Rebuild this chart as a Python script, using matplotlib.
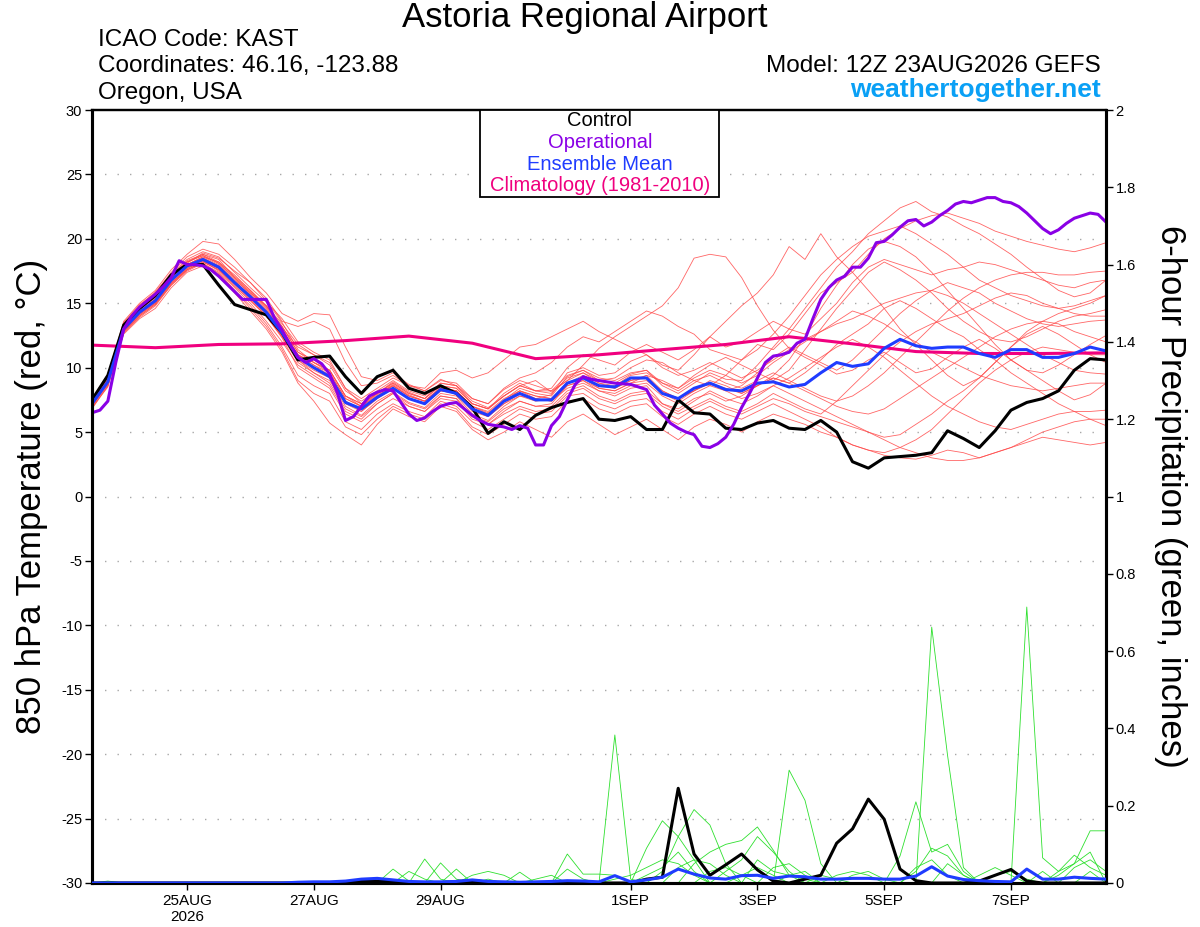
import numpy as np
import pandas as pd
import matplotlib
matplotlib.use('Agg')
import matplotlib.pyplot as plt
import matplotlib.dates as mdates
from matplotlib.patches import Rectangle

plt.rcParams['font.family'] = ['Liberation Sans', 'DejaVu Sans']

# ---- data ----
# 6-hourly steps from 12Z 23AUG2026, 65 points
times = pd.date_range('2026-08-23 12:00', periods=65, freq='6h')
times_op = pd.date_range('2026-08-23 12:00', periods=129, freq='3h')
times_clim = pd.date_range('2026-08-23 12:00', periods=17, freq='D')

ctrl_t = [7.5, 9.4, 13.3, 14.6, 15.6, 17.2, 18.0, 18.0, 16.4, 14.9, 14.5, 14.1, 12.7,
          10.6, 10.8, 10.9, 9.3, 8.0, 9.3, 9.8, 8.4, 8.0, 8.6, 8.0, 6.9, 4.9,
          5.8, 5.2, 6.3, 6.9, 7.3, 7.6, 6.0, 5.9, 6.2, 5.2, 5.2, 7.5, 6.5,
          6.4, 5.3, 5.2, 5.7, 5.9, 5.3, 5.2, 5.9, 5.0, 2.7, 2.2, 3.0, 3.1,
          3.2, 3.4, 5.1, 4.5, 3.8, 5.1, 6.7, 7.3, 7.6, 8.2, 9.8, 10.7, 10.6]

mean_t = [7.2, 8.9, 13.0, 14.3, 15.2, 16.8, 17.9, 18.4, 17.8, 16.6, 15.5, 14.3, 12.7,
          10.8, 10.0, 9.3, 7.3, 6.8, 7.7, 8.4, 7.6, 7.2, 8.3, 8.0, 6.8, 6.3,
          7.4, 8.0, 7.5, 7.5, 8.8, 9.2, 8.6, 8.5, 9.2, 9.2, 8.0, 7.6, 8.4,
          8.8, 8.3, 8.2, 8.8, 8.9, 8.5, 8.7, 9.6, 10.4, 10.1, 10.3, 11.5, 12.2,
          11.7, 11.5, 11.6, 11.6, 11.1, 10.8, 11.4, 11.4, 10.8, 10.8, 11.1, 11.6, 11.3]

# operational run is 3-hourly
oper_t = [6.5, 6.7, 7.4, 10.4, 13.0, 14.0, 14.7, 15.2, 15.7, 16.3, 17.0, 18.3, 18.0,
          18.0, 17.9, 17.6, 17.1, 16.5, 15.9, 15.3, 15.3, 15.3, 15.3, 13.9, 12.9, 11.8,
          10.8, 10.4, 10.7, 10.3, 9.5, 8.0, 5.9, 6.2, 7.0, 7.8, 8.1, 8.3, 8.2,
          7.3, 6.4, 5.9, 6.1, 6.6, 7.0, 7.2, 7.3, 6.8, 6.3, 5.9, 5.6, 5.5, 5.4,
          5.2, 5.5, 5.3, 4.0, 4.0, 5.5, 6.2, 7.5, 8.7, 9.3, 9.1, 9.0, 8.9,
          8.8, 8.75, 8.7, 8.5, 8.3, 7.1, 6.4, 5.7, 5.3, 5.0, 4.8, 3.9, 3.8,
          4.1, 4.6, 5.6, 6.9, 8.0, 9.2, 10.4, 10.9, 11.0, 11.2, 11.9, 12.2, 13.8,
          15.3, 16.2, 16.8, 17.1, 17.8, 17.8, 18.5, 19.7, 19.8, 20.3, 20.9, 21.4, 21.5,
          21.0, 21.3, 21.8, 22.2, 22.7, 22.9, 22.8, 23.0, 23.2, 23.2, 22.9, 22.8, 22.5,
          22.0, 21.4, 20.8, 20.4, 20.7, 21.2, 21.6, 21.8, 22.0, 21.9, 21.3]

clim_t = [11.75, 11.55, 11.8, 11.85, 12.1, 12.45, 11.9, 10.7, 11.0, 11.4, 11.8, 12.4,
          11.85, 11.25, 11.1, 11.1, 11.15]

members_t = [
    [7.0, 9.2, 13.4, 14.8, 15.9, 17.3, 18.4, 19.0, 18.6, 17.4, 16.2, 15.1, 13.8,
     12.0, 11.2, 10.6, 8.4, 7.2, 8.0, 8.9, 8.1, 7.6, 8.8, 8.6, 7.4, 6.9,
     7.8, 8.6, 9.0, 8.1, 9.0, 10.2, 11.5, 12.4, 13.2, 14.0, 14.8, 16.2, 18.5,
     18.8, 18.6, 17.0, 14.8, 12.9, 11.5, 10.8, 10.2, 9.5, 9.8, 10.6, 11.2, 10.4,
     9.6, 9.9, 10.8, 11.6, 12.2, 11.5, 10.6, 9.8, 9.0, 8.2, 7.5, 7.9, 8.8],
    [7.4, 9.0, 13.0, 14.6, 15.5, 17.0, 18.1, 18.9, 18.5, 17.5, 16.6, 15.2, 13.5,
     11.4, 10.4, 9.8, 7.8, 7.0, 7.9, 8.7, 7.9, 7.4, 8.5, 8.2, 7.0, 6.5,
     7.5, 8.4, 8.0, 7.8, 9.3, 9.8, 9.0, 8.8, 9.5, 9.8, 8.6, 8.0, 8.8,
     9.6, 9.1, 9.0, 10.2, 11.6, 13.0, 14.6, 16.2, 17.8, 19.0, 20.4, 21.4, 22.4,
     22.9, 22.1, 21.7, 21.0, 20.4, 19.6, 18.8, 17.8, 16.9, 16.0, 15.5, 15.8, 16.8],
    [7.2, 8.8, 12.8, 14.2, 15.0, 16.6, 17.6, 18.2, 17.6, 16.3, 15.2, 14.0, 12.4,
     10.6, 9.6, 9.0, 7.0, 6.3, 7.4, 8.1, 7.3, 6.9, 8.0, 7.8, 6.4, 5.9,
     7.0, 7.8, 7.6, 7.9, 9.6, 10.0, 9.4, 9.6, 10.5, 11.0, 10.2, 9.8, 11.0,
     12.4, 13.6, 14.8, 15.8, 17.2, 19.4, 18.4, 20.4, 18.6, 17.4, 16.0, 14.6, 13.0,
     11.8, 10.6, 9.4, 8.6, 9.2, 10.4, 11.6, 12.8, 13.6, 14.2, 14.6, 15.0, 15.6],
    [7.6, 9.4, 13.6, 15.0, 16.0, 17.6, 18.8, 19.8, 19.6, 18.4, 17.0, 15.8, 14.2,
     13.6, 14.2, 14.1, 11.6, 9.3, 9.0, 9.6, 8.7, 8.2, 9.1, 8.6, 7.6, 7.2,
     8.3, 9.0, 8.6, 8.2, 9.0, 9.6, 9.0, 9.2, 10.0, 10.6, 10.4, 9.6, 9.0,
     8.6, 9.4, 10.6, 11.8, 11.4, 12.6, 14.2, 15.8, 16.6, 17.4, 18.8, 20.0, 20.8,
     21.4, 21.8, 22.0, 21.6, 21.2, 20.6, 20.2, 19.8, 19.5, 19.2, 19.0, 19.3, 19.7],
    [6.8, 8.6, 12.6, 13.8, 14.6, 16.2, 17.4, 17.9, 17.2, 15.8, 14.4, 13.0, 11.2,
     8.8, 7.4, 5.7, 4.8, 4.0, 5.6, 6.8, 6.2, 5.8, 7.0, 6.6, 5.2, 4.4,
     5.0, 5.8, 5.2, 4.6, 5.8, 6.4, 5.6, 4.8, 5.4, 6.0, 5.2, 4.4, 5.4,
     6.0, 5.6, 5.0, 5.8, 6.4, 6.0, 5.6, 5.0, 4.6, 4.0, 3.6, 3.2, 3.0,
     2.9, 3.2, 3.6, 3.4, 3.0, 3.4, 3.8, 4.2, 4.6, 4.4, 4.2, 4.0, 4.2],
    [7.3, 9.1, 13.2, 14.5, 15.4, 17.0, 18.0, 18.6, 18.0, 16.8, 15.8, 14.6, 13.0,
     11.0, 10.2, 9.6, 7.6, 7.0, 8.0, 8.8, 8.0, 7.6, 8.6, 8.4, 7.2, 6.8,
     8.0, 8.8, 8.2, 8.4, 10.0, 11.0, 10.6, 10.2, 11.2, 11.8, 11.2, 10.6, 11.4,
     12.4, 11.6, 12.0, 12.8, 13.6, 13.0, 12.6, 13.8, 15.0, 16.6, 17.8, 18.4, 18.0,
     17.6, 17.2, 17.6, 17.8, 18.2, 18.0, 17.6, 17.2, 16.8, 16.4, 16.2, 16.6, 16.8],
    [7.1, 8.7, 12.9, 14.1, 15.0, 16.5, 17.7, 18.3, 17.5, 16.2, 15.0, 13.6, 12.0,
     10.2, 9.4, 8.6, 6.6, 6.0, 7.2, 8.0, 7.0, 6.6, 7.6, 7.4, 6.0, 5.6,
     6.6, 7.4, 7.0, 7.2, 8.6, 9.0, 8.2, 7.8, 8.4, 8.6, 7.2, 6.8, 7.6,
     8.0, 7.4, 7.8, 8.6, 9.2, 8.8, 9.6, 10.6, 11.8, 12.6, 13.4, 14.6, 15.2,
     14.6, 13.8, 13.0, 12.4, 11.4, 10.6, 9.6, 8.8, 8.0, 7.2, 6.6, 6.0, 5.5],
    [7.5, 9.3, 13.3, 14.7, 15.6, 17.2, 18.3, 18.8, 18.2, 17.2, 16.0, 14.8, 13.2,
     11.2, 10.6, 9.8, 7.8, 7.2, 8.0, 8.6, 7.8, 7.4, 8.4, 8.2, 7.0, 6.6,
     7.6, 8.2, 7.6, 7.4, 8.6, 9.0, 8.4, 8.2, 8.8, 9.4, 9.0, 8.4, 9.4,
     10.2, 10.8, 10.2, 9.6, 9.0, 9.8, 11.4, 13.0, 14.6, 16.0, 17.4, 18.2, 17.6,
     16.8, 15.8, 14.6, 13.6, 12.8, 12.2, 12.0, 12.4, 13.0, 13.6, 14.0, 14.2, 14.5],
    [6.9, 8.5, 12.7, 13.9, 14.8, 16.4, 17.5, 18.1, 17.4, 16.0, 14.8, 13.4, 11.6,
     9.4, 8.6, 8.0, 5.8, 5.2, 6.4, 7.2, 6.6, 6.2, 7.4, 7.0, 5.8, 5.2,
     6.0, 6.8, 6.4, 6.6, 7.8, 8.0, 7.2, 6.8, 7.4, 7.6, 6.6, 6.0, 6.8,
     7.4, 6.8, 6.4, 7.0, 7.6, 7.2, 6.6, 6.2, 5.8, 5.4, 5.0, 4.6, 4.8,
     5.6, 6.4, 7.4, 8.2, 9.2, 10.4, 11.6, 12.6, 13.2, 12.6, 11.8, 11.0, 10.4],
    [7.2, 9.0, 13.1, 14.4, 15.3, 16.9, 18.0, 18.5, 17.9, 16.7, 15.6, 14.4, 12.9,
     11.0, 10.2, 9.4, 7.4, 6.6, 7.6, 8.4, 7.6, 7.2, 8.2, 8.0, 6.6, 6.2,
     7.2, 7.8, 7.4, 7.6, 8.8, 9.4, 8.8, 8.6, 9.4, 9.6, 8.8, 8.4, 9.2,
     9.8, 9.4, 8.8, 9.4, 10.4, 11.2, 12.0, 12.8, 13.6, 14.4, 14.0, 13.4, 12.6,
     12.0, 11.2, 10.6, 10.0, 9.4, 9.0, 8.6, 8.4, 8.2, 8.4, 8.6, 8.8, 8.8],
    [7.0, 8.9, 13.0, 14.3, 15.3, 16.9, 18.2, 18.8, 18.4, 17.0, 15.8, 14.8, 13.4,
     11.8, 11.0, 10.2, 8.2, 7.4, 8.2, 9.0, 8.2, 7.8, 8.8, 8.6, 7.2, 6.8,
     7.8, 8.6, 8.2, 8.0, 9.2, 9.6, 8.8, 8.4, 9.0, 9.4, 8.2, 7.6, 8.2,
     9.0, 8.6, 8.0, 8.6, 9.4, 10.6, 12.4, 14.6, 16.4, 18.0, 19.2, 19.8, 19.4,
     18.6, 17.4, 16.0, 14.6, 13.2, 11.8, 10.6, 9.8, 9.6, 10.2, 11.0, 11.8, 12.5],
    [7.3, 8.8, 12.8, 14.0, 14.9, 16.4, 17.6, 18.2, 17.6, 16.4, 15.2, 14.0, 12.4,
     10.4, 9.6, 8.8, 6.8, 6.2, 7.2, 8.0, 7.2, 6.8, 7.8, 7.6, 6.2, 5.8,
     6.8, 7.4, 7.0, 7.0, 8.2, 8.6, 7.8, 7.4, 8.0, 8.2, 7.2, 6.6, 7.4,
     8.2, 7.6, 7.2, 7.8, 8.6, 9.2, 10.0, 10.8, 11.6, 12.2, 11.6, 10.8, 9.8,
     8.8, 7.8, 7.0, 6.4, 5.8, 5.4, 5.2, 5.6, 6.0, 6.4, 6.6, 6.6, 6.7],
    [7.6, 9.5, 13.5, 14.9, 15.8, 17.4, 18.6, 19.2, 18.8, 17.8, 16.6, 15.4, 13.6,
     13.2, 13.6, 13.0, 10.4, 8.6, 8.8, 9.4, 8.6, 8.2, 9.0, 8.8, 7.6, 7.2,
     8.4, 9.2, 9.6, 10.4, 11.6, 12.4, 12.0, 12.8, 13.6, 14.4, 14.0, 13.2, 12.6,
     11.4, 11.0, 10.6, 11.4, 12.6, 14.0, 15.6, 17.2, 18.4, 19.4, 20.2, 20.6, 21.0,
     20.4, 19.6, 18.8, 17.8, 16.8, 16.2, 15.6, 15.2, 14.8, 14.6, 14.8, 15.2, 15.6],
    [7.1, 8.8, 12.9, 14.2, 15.1, 16.7, 17.8, 18.3, 17.7, 16.5, 15.4, 14.1, 12.5,
     10.6, 9.8, 9.2, 7.2, 6.6, 7.6, 8.4, 7.6, 7.2, 8.2, 8.0, 6.8, 6.2,
     7.2, 8.0, 7.6, 7.4, 8.4, 8.8, 8.2, 8.0, 8.6, 8.8, 7.8, 7.2, 8.0,
     8.6, 8.2, 8.6, 9.6, 10.8, 11.6, 11.0, 10.4, 9.8, 10.6, 11.8, 13.0, 14.2,
     15.2, 16.0, 16.6, 16.2, 15.8, 15.0, 14.4, 13.8, 13.4, 13.2, 13.4, 13.6, 13.7],
    [6.9, 8.6, 12.7, 14.0, 14.9, 16.5, 17.6, 18.1, 17.3, 16.0, 14.6, 13.2, 11.4,
     9.0, 8.0, 7.4, 5.4, 4.8, 6.0, 7.0, 6.4, 6.0, 7.2, 6.8, 5.4, 4.8,
     5.6, 6.4, 6.0, 6.2, 7.4, 7.6, 6.8, 6.4, 7.0, 7.2, 6.2, 5.6, 6.4,
     7.0, 6.4, 6.0, 6.6, 7.2, 6.6, 6.0, 5.4, 4.6, 4.0, 3.6, 3.4, 3.8,
     4.4, 5.2, 6.4, 7.6, 8.8, 9.8, 10.6, 11.2, 11.6, 11.4, 11.2, 11.0, 11.0],
    [7.4, 9.1, 13.2, 14.6, 15.5, 17.1, 18.2, 18.7, 18.1, 17.0, 15.9, 14.7, 13.1,
     11.6, 11.0, 10.4, 8.4, 7.6, 8.4, 9.2, 8.6, 8.4, 9.6, 9.8, 9.2, 9.6,
     10.6, 11.6, 11.8, 12.4, 13.0, 13.6, 12.8, 12.2, 11.6, 11.0, 10.0, 9.4, 9.8,
     10.4, 9.8, 9.2, 9.8, 10.6, 11.4, 12.2, 12.8, 13.4, 13.8, 14.4, 15.0, 15.4,
     15.8, 16.0, 15.6, 15.0, 14.2, 13.4, 12.6, 11.8, 11.0, 10.4, 9.8, 9.6, 9.5],
    [7.2, 8.9, 13.0, 14.3, 15.2, 16.8, 17.9, 18.5, 17.9, 16.7, 15.6, 14.4, 12.8,
     10.8, 10.0, 9.4, 7.4, 6.8, 7.8, 8.6, 7.8, 7.4, 8.4, 8.2, 7.0, 6.4,
     7.4, 8.2, 7.8, 7.6, 8.8, 9.2, 8.4, 8.2, 8.8, 9.0, 8.0, 7.4, 8.2,
     8.8, 8.4, 8.0, 8.6, 9.2, 8.8, 8.2, 7.6, 7.0, 6.6, 6.4, 6.8, 7.6,
     8.4, 9.2, 10.0, 10.8, 11.6, 12.4, 13.0, 13.4, 13.6, 13.4, 12.8, 12.4, 12.0],
    [7.0, 8.7, 12.8, 14.1, 15.0, 16.6, 17.7, 18.3, 17.7, 16.5, 15.3, 14.0, 12.3,
     10.0, 9.2, 8.4, 6.4, 5.8, 6.8, 7.6, 7.0, 6.6, 7.8, 7.6, 6.2, 5.6,
     6.4, 7.0, 6.6, 6.8, 8.0, 8.4, 7.6, 7.2, 7.8, 8.0, 7.0, 6.4, 7.0,
     7.6, 7.0, 6.6, 7.2, 8.0, 7.4, 6.8, 6.4, 7.4, 8.6, 9.8, 11.0, 12.0,
     12.8, 13.4, 13.8, 14.2, 14.8, 15.4, 15.8, 15.6, 15.0, 14.6, 14.2, 14.0, 14.0],
    [7.5, 9.2, 13.3, 14.6, 15.5, 17.1, 18.2, 18.7, 18.1, 16.9, 15.7, 14.5, 12.9,
     11.0, 10.4, 9.6, 7.6, 7.0, 7.8, 8.6, 7.8, 7.4, 8.4, 8.2, 6.8, 6.4,
     7.4, 8.2, 7.8, 7.6, 8.8, 9.2, 8.6, 8.4, 9.0, 9.2, 8.2, 7.6, 8.2,
     8.8, 8.2, 7.6, 8.0, 8.6, 8.0, 7.4, 6.8, 6.2, 5.6, 5.0, 4.4, 3.8,
     3.4, 3.0, 2.8, 2.8, 3.0, 3.4, 3.8, 4.4, 5.0, 5.4, 5.8, 6.0, 6.0],
    [7.3, 9.0, 13.1, 14.4, 15.3, 16.9, 18.0, 18.6, 18.2, 17.1, 16.0, 14.8, 13.2,
     11.2, 10.4, 9.8, 7.8, 7.2, 8.0, 8.8, 8.0, 7.6, 8.6, 8.4, 7.2, 6.8,
     7.8, 8.6, 8.2, 8.2, 9.4, 9.8, 9.2, 9.0, 9.6, 9.8, 8.8, 8.2, 9.0,
     9.4, 8.8, 8.4, 9.0, 9.6, 9.0, 8.4, 7.8, 7.4, 7.8, 8.6, 9.6, 10.8,
     12.0, 13.2, 14.4, 15.4, 16.2, 16.8, 17.2, 17.4, 17.4, 17.2, 17.2, 17.4, 17.5],
]

# 6-hour precipitation (inches)
ctrl_p = [0, 0, 0, 0, 0, 0, 0, 0, 0, 0, 0, 0, 0,
          0, 0, 0, 0.003, 0.006, 0.005, 0.003, 0, 0, 0, 0.004, 0.006, 0.003,
          0, 0, 0, 0, 0.003, 0.002, 0, 0, 0, 0.01, 0.015, 0.245, 0.075,
          0.02, 0.047, 0.075, 0.034, 0.005, 0, 0.01, 0.02, 0.103, 0.14, 0.217, 0.165, 0.036,
          0.006, 0, 0, 0, 0.005, 0.02, 0.035, 0.005, 0, 0, 0, 0, 0]

mean_p = [0, 0, 0, 0, 0, 0, 0, 0, 0, 0, 0, 0, 0,
          0.002, 0.003, 0.003, 0.005, 0.01, 0.012, 0.008, 0.004, 0.003, 0.003, 0.004, 0.008, 0.004,
          0.003, 0.002, 0.003, 0.004, 0.006, 0.005, 0.003, 0.019, 0.003, 0.008, 0.015, 0.036, 0.023,
          0.013, 0.01, 0.019, 0.02, 0.012, 0.018, 0.016, 0.01, 0.01, 0.012, 0.012, 0.01, 0.01,
          0.018, 0.042, 0.018, 0.009, 0.006, 0.004, 0.003, 0.036, 0.01, 0.01, 0.015, 0.012, 0.01]

# members: nonzero 6-h amounts by step index, all other steps are 0
members_p = [
    {19: 0.036, 20: 0.005, 33: 0.383, 34: 0.01, 44: 0.02, 45: 0.03},
    {21: 0.062, 22: 0.01, 25: 0.01, 36: 0.03, 37: 0.12, 38: 0.19, 39: 0.15, 40: 0.05,
     53: 0.662, 54: 0.33, 55: 0.04},
    {22: 0.052, 23: 0.01, 44: 0.292, 45: 0.214, 46: 0.05},
    {1: 0.005, 23: 0.036, 27: 0.028, 59: 0.714, 60: 0.065, 61: 0.03, 62: 0.05, 63: 0.08},
    {30: 0.036, 31: 0.01, 35: 0.09, 36: 0.161, 37: 0.12, 38: 0.06},
    {30: 0.075, 31: 0.023, 32: 0.023, 33: 0.02},
    {38: 0.05, 39: 0.08, 40: 0.10, 41: 0.11, 42: 0.145, 43: 0.085, 44: 0.02},
    {51: 0.07, 52: 0.21, 53: 0.08, 54: 0.1, 55: 0.03},
    {61: 0.02, 62: 0.05, 63: 0.135, 64: 0.135},
    {61: 0.03, 62: 0.072, 63: 0.04, 64: 0.02},
    {40: 0.03, 41: 0.06, 42: 0.12, 43: 0.08, 44: 0.03},
    {37: 0.04, 38: 0.06, 39: 0.05, 40: 0.02, 47: 0.02, 48: 0.03, 49: 0.02},
    {52: 0.03, 53: 0.09, 54: 0.07, 55: 0.02, 60: 0.03},
    {33: 0.01, 34: 0.02, 35: 0.04, 36: 0.06, 37: 0.05, 38: 0.02, 52: 0.04, 53: 0.06, 54: 0.02},
    {42: 0.06, 43: 0.03, 44: 0.02, 45: 0.01, 57: 0.02, 58: 0.03, 59: 0.01},
    {24: 0.02, 25: 0.03, 26: 0.02, 39: 0.03, 40: 0.04, 41: 0.02, 62: 0.04, 63: 0.06, 64: 0.03},
    {35: 0.02, 36: 0.04, 37: 0.08, 38: 0.03, 46: 0.02, 47: 0.01},
    {20: 0.03, 21: 0.01, 43: 0.04, 44: 0.05, 45: 0.02, 54: 0.05, 55: 0.02},
    {28: 0.01, 29: 0.02, 48: 0.02, 49: 0.03, 50: 0.01, 63: 0.03},
    {41: 0.02, 42: 0.04, 43: 0.02, 56: 0.02, 57: 0.04, 58: 0.02},
]

tick_days = ['2026-08-25', '2026-08-27', '2026-08-29', '2026-09-01',
             '2026-09-03', '2026-09-05', '2026-09-07']
tick_labels = ['25AUG\n2026', '27AUG', '29AUG', '1SEP', '3SEP', '5SEP', '7SEP']

RED = '#ff4a4a'
GREEN = '#2ee02e'
PURPLE = '#8a00e6'
BLUE = '#1f3cff'
MAGENTA = '#f0007f'

# ---- figure ----
W, H = 1200, 927
fig = plt.figure(figsize=(W / 100, H / 100), dpi=100)
ax = fig.add_axes([92 / W, 1 - 883 / H, (1106 - 92) / W, (883 - 110) / H])
ax2 = ax.twinx()

for m in members_t:
    ax.plot(times, m, color=RED, lw=0.6, alpha=0.85, zorder=2)
ax.plot(times_clim, clim_t, color=MAGENTA, lw=2.2, zorder=3)
ax.plot(times, ctrl_t, color='black', lw=2.2, zorder=4)
ax.plot(times, mean_t, color=BLUE, lw=2.2, zorder=5)
ax.plot(times_op, oper_t, color=PURPLE, lw=2.2, zorder=6)

for d in members_p:
    vals = np.zeros(len(times))
    for k, v in d.items():
        vals[k] = v
    ax2.plot(times, vals, color=GREEN, lw=0.6, zorder=2)
ax2.plot(times, ctrl_p, color='black', lw=2.2, zorder=4)
ax2.plot(times, mean_p, color=BLUE, lw=2.2, zorder=5)

ax.set_xlim(times[0], times[-1])
ax.set_ylim(-30, 30)
ax2.set_ylim(0, 2)

ax.set_yticks(np.arange(-30, 31, 5))
ax.set_yticklabels([str(v) for v in range(-30, 31, 5)])
ax2.set_yticks(np.arange(0, 2.01, 0.2))
ax2.set_yticklabels(['0', '0.2', '0.4', '0.6', '0.8', '1', '1.2', '1.4', '1.6', '1.8', '2'])
ax.set_xticks([mdates.date2num(pd.Timestamp(t)) for t in tick_days])
ax.set_xticklabels(tick_labels)

for v in range(-25, 30, 5):
    ax.axhline(v, color='#a8a8a8', lw=1.0, ls=(0, (1, 8)), zorder=1)

ax.tick_params(axis='y', direction='out', length=5, width=1, labelsize=10.5, pad=2)
ax.tick_params(axis='x', direction='out', length=5, width=1, labelsize=11, pad=3)
ax2.tick_params(axis='y', direction='out', length=5, width=1, labelsize=10.5, pad=2)

for a in (ax, ax2):
    for s in ('left', 'right', 'bottom'):
        a.spines[s].set_linewidth(2.2)
    a.spines['top'].set_linewidth(1.6)

# ---- texts ----
def ft(x, y, s, **kw):
    fig.text(x / W, 1 - y / H, s, **kw)

ft(585, 18, 'Astoria Regional Airport', ha='center', va='center', fontsize=25)
ft(98, 40, 'ICAO Code: KAST', ha='left', va='center', fontsize=17.5)
ft(98, 66, 'Coordinates: 46.16, -123.88', ha='left', va='center', fontsize=17.5)
ft(98, 93, 'Oregon, USA', ha='left', va='center', fontsize=17.5)
ft(1101, 66, 'Model: 12Z 23AUG2026 GEFS', ha='right', va='center', fontsize=17.5)
ft(1101, 90, 'weathertogether.net', ha='right', va='center', fontsize=19,
   fontweight='bold', color='#0aa0f5')
ft(32, 496, '850 hPa Temperature (red, \u00b0C)', ha='center', va='center',
   rotation=90, fontsize=25)
ft(1170, 496, '6-hour Precipitation (green, inches)', ha='center', va='center',
   rotation=270, fontsize=25)

# legend box
fig.add_artist(Rectangle((480 / W, 1 - 197 / H), (719 - 480) / W, (197 - 110) / H,
                         transform=fig.transFigure, facecolor='white',
                         edgecolor='black', lw=1.3, zorder=5))
leg = [('Control', 'black'), ('Operational', PURPLE),
       ('Ensemble Mean', BLUE), ('Climatology (1981-2010)', MAGENTA)]
for j, (s, c) in enumerate(leg):
    ft(600, 121 + j * 21.5, s, ha='center', va='center', fontsize=14.5, color=c, zorder=6)

fig.savefig('out.png', dpi=100)
